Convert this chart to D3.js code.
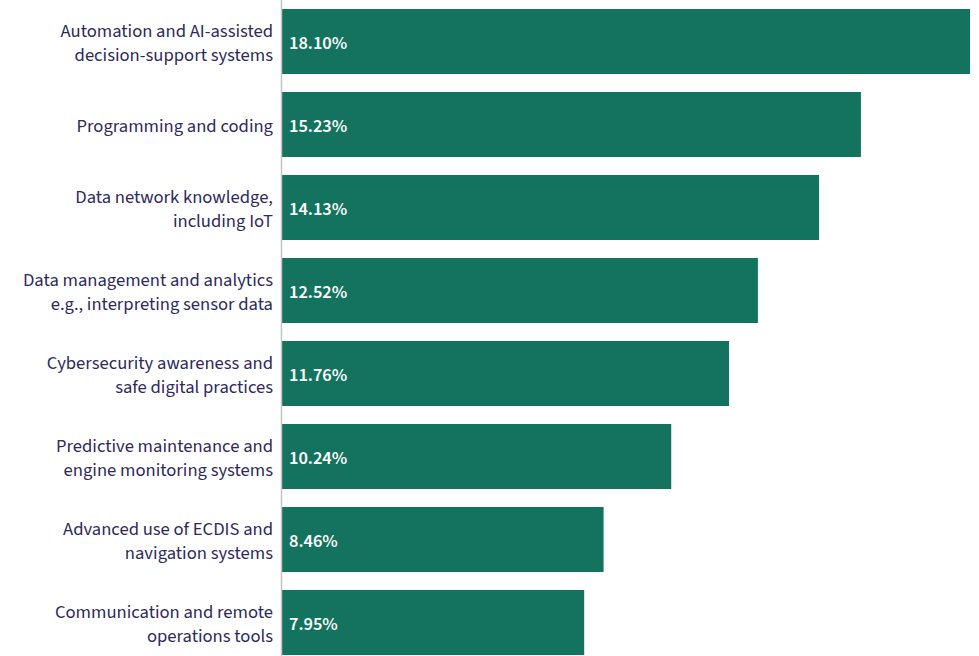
<!DOCTYPE html>
<html>
<head>
<meta charset="utf-8">
<script src="https://cdn.jsdelivr.net/npm/d3@7"></script>
<style>
  html, body { margin: 0; padding: 0; background: #fff; }
  svg { display: block; }
</style>
</head>
<body>
<svg id="chart" width="979" height="656"></svg>
<script>
// Skill categories (each entry holds its wrapped label lines)
const categories = [
  ["Automation and AI-assisted", "decision-support systems"],
  ["Programming and coding"],
  ["Data network knowledge,", "including IoT"],
  ["Data management and analytics", "e.g., interpreting sensor data"],
  ["Cybersecurity awareness and", "safe digital practices"],
  ["Predictive maintenance and", "engine monitoring systems"],
  ["Advanced use of ECDIS and", "navigation systems"],
  ["Communication and remote", "operations tools"]
];
// Share of responses, percent
const values = [18.10, 15.23, 14.13, 12.52, 11.76, 10.24, 8.46, 7.95];

const data = categories.map((lines, i) => ({ key: lines.join(" "), lines, value: values[i] }));

const width = 979, height = 656;
const left = 282, right = 970;
const svg = d3.select("#chart");

const x = d3.scaleLinear().domain([0, d3.max(values)]).range([left, right]);
const y = d3.scaleBand()
  .domain(data.map(d => d.key))
  .range([0, 664])
  .paddingInner(18 / 83)
  .paddingOuter(9 / 83);

const font = "'Source Sans Pro', 'Source Sans 3', Lato, 'Noto Sans', sans-serif";

// Bars
svg.append("g").selectAll("rect")
  .data(data)
  .join("rect")
  .attr("x", x(0))
  .attr("y", d => y(d.key))
  .attr("width", d => x(d.value) - x(0))
  .attr("height", y.bandwidth())
  .attr("fill", "#13735e");

// Vertical baseline
svg.append("line")
  .attr("x1", x(0) - 0.5).attr("x2", x(0) - 0.5)
  .attr("y1", 0).attr("y2", height)
  .attr("stroke", "#c4c4c4")
  .attr("stroke-width", 1.5);

// Category labels
const lineH = 24;
const lab = svg.append("g").selectAll("text")
  .data(data)
  .join("text")
  .attr("text-anchor", "end")
  .attr("font-family", font)
  .attr("font-size", 18.6)
  .attr("fill", "#2e2a5e");
lab.each(function (d) {
  const t = d3.select(this);
  const cy = y(d.key) + y.bandwidth() / 2 + 0.5;
  const n = d.lines.length;
  d.lines.forEach((s, i) => {
    t.append("tspan")
      .attr("x", x(0) - 9)
      .attr("y", cy + (i - (n - 1) / 2) * lineH)
      .attr("dy", "0.35em")
      .text(s);
  });
});

// Value labels inside bars
svg.append("g").selectAll("text")
  .data(data)
  .join("text")
  .attr("x", x(0) + 7)
  .attr("y", d => y(d.key) + y.bandwidth() / 2 + 1)
  .attr("dy", "0.35em")
  .attr("font-family", font)
  .attr("font-size", 18.4)
  .attr("font-weight", 600)
  .attr("fill", "#ffffff")
  .text(d => d.value.toFixed(2) + "%");
</script>
</body>
</html>
